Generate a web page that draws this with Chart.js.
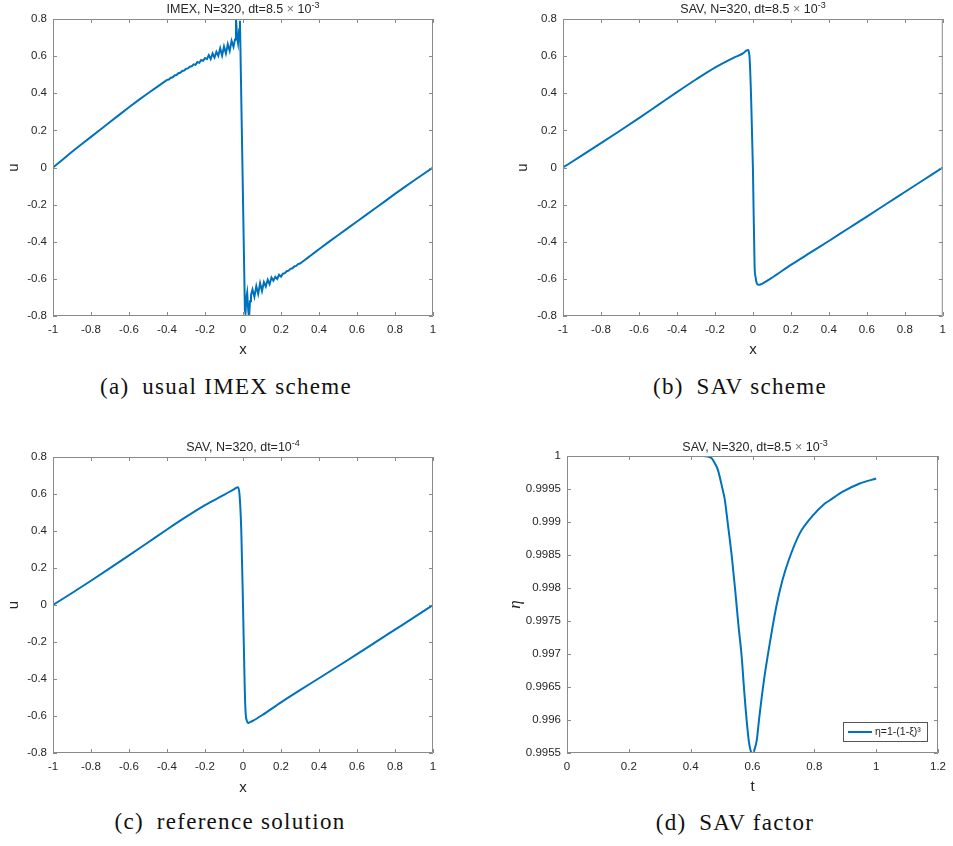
<!DOCTYPE html>
<html>
<head>
<meta charset="utf-8">
<script src="https://cdn.jsdelivr.net/npm/chart.js@4.4.1/dist/chart.umd.min.js"></script>
<style>
  body { margin: 0; width: 953px; height: 846px; background: #fff; position: relative; overflow: hidden; }
  canvas { position: absolute; }
  .ttl { position: absolute; text-align: center; font: 12.5px "Liberation Sans", Arial, sans-serif; color: #262626; line-height: 14px; white-space: nowrap; }
  .ttl .times { color: #777; }
  .ttl sup { font-size: 9px; vertical-align: 5px; line-height: 0; }
  .cap { position: absolute; width: 400px; text-align: center; font: 23px "Liberation Serif", "Times New Roman", serif; color: #111; line-height: 26px; white-space: nowrap; letter-spacing: 1.3px; }
</style>
</head>
<body>
<canvas id="imex" width="476" height="359" style="left:0px;top:0px"></canvas>
<canvas id="sav" width="463" height="359" style="left:490px;top:0px"></canvas>
<canvas id="ref" width="476" height="397" style="left:0px;top:400px"></canvas>
<canvas id="eta" width="463" height="396" style="left:490px;top:400px"></canvas>

<div class="ttl" style="left:53px;width:380px;top:2px">IMEX, N=320, dt=8.5 <span class="times">&times;</span> 10<sup>-3</sup></div>
<div class="ttl" style="left:563px;width:380px;top:2px">SAV, N=320, dt=8.5 <span class="times">&times;</span> 10<sup>-3</sup></div>
<div class="ttl" style="left:53px;width:380px;top:440px">SAV, N=320, dt=10<sup>-4</sup></div>
<div class="ttl" style="left:567px;width:376px;top:440px">SAV, N=320, dt=8.5 <span class="times">&times;</span> 10<sup>-3</sup></div>

<div class="cap" style="left:26px;top:374px">(a)&ensp;usual IMEX scheme</div>
<div class="cap" style="left:540px;top:374px">(b)&ensp;SAV scheme</div>
<div class="cap" style="left:30px;top:809px">(c)&ensp;reference solution</div>
<div class="cap" style="left:535px;top:810px">(d)&ensp;SAV factor</div>

<script>
// tick positions
const xTicks = [-1, -0.8, -0.6, -0.4, -0.2, 0, 0.2, 0.4, 0.6, 0.8, 1];
const uTicks = [-0.8, -0.6, -0.4, -0.2, 0, 0.2, 0.4, 0.6, 0.8];
const tTicks = [0, 0.2, 0.4, 0.6, 0.8, 1, 1.2];
const etaTicks = [0.9955, 0.996, 0.9965, 0.997, 0.9975, 0.998, 0.9985, 0.999, 0.9995, 1];

// (a) usual IMEX scheme
const imexX = [
  -1, -0.95, -0.9, -0.85, -0.8, -0.75, -0.7, -0.65, -0.6, -0.55, -0.5, -0.45,
  -0.40, -0.39, -0.38, -0.37, -0.36, -0.35, -0.34, -0.33, -0.32, -0.31,
  -0.30, -0.29, -0.28, -0.27, -0.26, -0.25, -0.24, -0.23, -0.22, -0.21,
  -0.20, -0.19, -0.18, -0.17, -0.16, -0.15, -0.14, -0.13, -0.12, -0.11,
  -0.10, -0.09, -0.08, -0.07, -0.06, -0.05,
  -0.042, -0.037, -0.031, -0.026, -0.02, -0.016,
  0.01, 0.013, 0.018, 0.022, 0.028, 0.032, 0.037, 0.042,
  0.05, 0.06, 0.07, 0.08, 0.09, 0.10, 0.11, 0.12, 0.13, 0.14,
  0.15, 0.16, 0.17, 0.18, 0.19, 0.20,
  0.21, 0.22, 0.23, 0.24, 0.25, 0.26, 0.27, 0.28, 0.29, 0.30,
  0.32, 0.34, 0.36, 0.38, 0.40,
  0.45, 0.5, 0.55, 0.6, 0.65, 0.7, 0.75, 0.8, 0.85, 0.9, 0.95, 1
];
const imexU = [
  0, 0.042, 0.085, 0.125, 0.165, 0.205, 0.245, 0.285, 0.325, 0.363, 0.400, 0.436,
  0.472, 0.474, 0.484, 0.486, 0.496, 0.498, 0.508, 0.510, 0.520, 0.522,
  0.532, 0.534, 0.543, 0.545, 0.556, 0.553, 0.568, 0.564, 0.579, 0.575,
  0.590, 0.584, 0.606, 0.584, 0.614, 0.592, 0.623, 0.602, 0.642, 0.603,
  0.652, 0.614, 0.664, 0.628, 0.682, 0.650,
  0.690, 0.804, 0.700, 0.669, 0.745, 0.790,
  -0.770, -0.785, -0.700, -0.675, -0.775, -0.806, -0.720, -0.689,
  -0.657, -0.697, -0.639, -0.681, -0.623, -0.665, -0.618, -0.641, -0.605, -0.629,
  -0.593, -0.610, -0.589, -0.600, -0.578, -0.588,
  -0.572, -0.569, -0.559, -0.556, -0.546, -0.543, -0.533, -0.530, -0.520, -0.517,
  -0.502, -0.487, -0.471, -0.456, -0.440,
  -0.402, -0.365, -0.328, -0.291, -0.254, -0.217, -0.180, -0.142, -0.106, -0.070, -0.035, 0
];

// (b) SAV scheme
const savX = [
  -1, -0.9, -0.8, -0.7, -0.6, -0.5, -0.4, -0.3, -0.2, -0.1,
  -0.05, -0.035, -0.025, -0.02, -0.017, -0.009, 0,
  0.009, 0.014, 0.02, 0.026, 0.035, 0.05, 0.1,
  0.2, 0.3, 0.4, 0.5, 0.6, 0.7, 0.8, 0.9, 1
];
const savU = [
  0, 0.065, 0.131, 0.198, 0.266, 0.336, 0.406, 0.474, 0.538, 0.592,
  0.616, 0.630, 0.633, 0.615, 0.585, 0.36, 0,
  -0.536, -0.59, -0.622, -0.631, -0.632, -0.625, -0.594,
  -0.525, -0.460, -0.396, -0.330, -0.265, -0.198, -0.132, -0.066, 0
];

// (c) reference solution
const refX = [
  -1, -0.9, -0.8, -0.7, -0.6, -0.5, -0.4, -0.3, -0.2, -0.1,
  -0.044, -0.026, -0.018, -0.009, 0,
  0.009, 0.014, 0.02, 0.026, 0.035, 0.05, 0.1,
  0.2, 0.3, 0.4, 0.5, 0.6, 0.7, 0.8, 0.9, 1
];
const refU = [
  0, 0.065, 0.131, 0.199, 0.268, 0.338, 0.408, 0.476, 0.540, 0.595,
  0.628, 0.637, 0.593, 0.40, 0,
  -0.443, -0.587, -0.625, -0.638, -0.634, -0.627, -0.596,
  -0.526, -0.460, -0.396, -0.331, -0.266, -0.199, -0.133, -0.067, 0
];

// (d) SAV factor
const etaT = [
  0, 0.1, 0.2, 0.3, 0.4, 0.44, 0.467, 0.478, 0.488, 0.504,
  0.51, 0.52, 0.533, 0.544, 0.554, 0.565, 0.573, 0.582, 0.589, 0.595,
  0.6, 0.607, 0.614, 0.621, 0.637, 0.658, 0.677, 0.697, 0.717, 0.752,
  0.792, 0.834, 0.85, 0.892, 0.945, 1.0
];
const etaV = [
  1, 1, 1, 1, 1, 1, 0.99997, 0.99989, 0.99979, 0.99948,
  0.99935, 0.99898, 0.99848, 0.99797, 0.99746, 0.99696, 0.99645, 0.99595, 0.99565, 0.99552,
  0.99548, 0.99556, 0.9957, 0.996, 0.9966, 0.99722, 0.99772, 0.99812, 0.99842, 0.99882,
  0.99908, 0.99928, 0.99933, 0.99946, 0.99958, 0.99966
];

const LINE = '#0072BD';
const TEXT = '#262626';
const SANS = '"Liberation Sans", Arial, sans-serif';

// MATLAB-style box with inward ticks on all four sides
const axesBox = {
  id: 'axesBox',
  afterDraw(chart) {
    const { ctx, chartArea: a, scales: { x, y } } = chart;
    const len = 4;
    ctx.save();
    ctx.strokeStyle = '#8a8a8a';
    ctx.lineWidth = 1;
    ctx.beginPath();
    ctx.rect(a.left + 0.5, a.top + 0.5, a.right - a.left - 1, a.bottom - a.top - 1);
    x.ticks.forEach((t) => {
      const px = Math.round(x.getPixelForValue(t.value)) + 0.5;
      ctx.moveTo(px, a.bottom); ctx.lineTo(px, a.bottom - len);
      ctx.moveTo(px, a.top); ctx.lineTo(px, a.top + len);
    });
    y.ticks.forEach((t) => {
      const py = Math.round(y.getPixelForValue(t.value)) + 0.5;
      ctx.moveTo(a.left, py); ctx.lineTo(a.left + len, py);
      ctx.moveTo(a.right, py); ctx.lineTo(a.right - len, py);
    });
    ctx.stroke();
    ctx.restore();
  }
};

// legend box in the lower right corner of the chart area
const cornerLegend = {
  id: 'cornerLegend',
  afterDraw(chart, args, opts) {
    if (!opts.show) return;
    const { ctx, chartArea: a } = chart;
    const w = 84, h = 19;
    const left = a.right - 11 - w, top = a.bottom - 12 - h;
    ctx.save();
    ctx.fillStyle = '#fff';
    ctx.fillRect(left, top, w, h);
    ctx.strokeStyle = '#555';
    ctx.lineWidth = 1;
    ctx.strokeRect(left + 0.5, top + 0.5, w, h);
    const ds = chart.data.datasets[0];
    ctx.strokeStyle = ds.borderColor;
    ctx.lineWidth = 2;
    ctx.beginPath();
    ctx.moveTo(left + 5, top + h / 2 + 0.5);
    ctx.lineTo(left + 29, top + h / 2 + 0.5);
    ctx.stroke();
    ctx.fillStyle = TEXT;
    ctx.font = '10.5px ' + SANS;
    ctx.textBaseline = 'middle';
    ctx.fillText(ds.label, left + 32, top + h / 2 + 1);
    ctx.restore();
  }
};

const fmt = (v) => String(+(+v).toFixed(4));

function makePanel(id, frame, plot, opts) {
  const cv = document.getElementById(id);
  const yWidth = plot.left - frame.left;
  const xHeight = frame.top + frame.height - plot.bottom;
  const points = opts.xs.map((x, i) => ({ x, y: opts.ys[i] }));
  return new Chart(cv, {
    type: 'line',
    data: {
      datasets: [{
        label: opts.label || '',
        data: points,
        borderColor: LINE,
        borderWidth: 2,
        pointRadius: 0,
        tension: 0,
        cubicInterpolationMode: opts.smooth ? 'monotone' : 'default',
        fill: false
      }]
    },
    options: {
      responsive: false,
      animation: false,
      layout: { padding: { top: plot.top - frame.top, right: frame.left + frame.width - plot.right, left: 0, bottom: 0 } },
      plugins: {
        legend: { display: false },
        tooltip: { enabled: false },
        cornerLegend: { show: !!opts.legend }
      },
      scales: {
        x: {
          type: 'linear',
          min: opts.xTicks[0],
          max: opts.xTicks[opts.xTicks.length - 1],
          afterBuildTicks: (s) => { s.ticks = opts.xTicks.map((v) => ({ value: v })); },
          afterFit: (s) => { s.height = xHeight; },
          grid: { display: false, drawTicks: false },
          border: { display: false },
          ticks: { color: TEXT, font: { family: SANS, size: 11.5 }, padding: 7, autoSkip: false, maxRotation: 0, callback: fmt },
          title: { display: true, text: opts.xTitle, color: TEXT, font: { family: SANS, size: 15 }, padding: 0 }
        },
        y: {
          type: 'linear',
          min: opts.yTicks[0],
          max: opts.yTicks[opts.yTicks.length - 1],
          afterBuildTicks: (s) => { s.ticks = opts.yTicks.map((v) => ({ value: v })); },
          afterFit: (s) => { s.width = yWidth; },
          grid: { display: false, drawTicks: false },
          border: { display: false },
          ticks: { color: TEXT, font: { family: SANS, size: 11.5 }, padding: 6, autoSkip: false, callback: fmt },
          title: { display: true, text: opts.yTitle, color: TEXT, font: opts.yFont || { family: SANS, size: 15 }, padding: { top: opts.yPad, bottom: 0 } }
        }
      }
    },
    plugins: [axesBox, cornerLegend]
  });
}

makePanel('imex', { left: 0, top: 0, width: 476, height: 359 }, { left: 53, top: 19, right: 433, bottom: 316 },
  { xs: imexX, ys: imexU, xTicks, yTicks: uTicks, xTitle: 'x', yTitle: 'u', yPad: 5 });
makePanel('sav', { left: 490, top: 0, width: 463, height: 359 }, { left: 563, top: 19, right: 943, bottom: 316 },
  { xs: savX, ys: savU, xTicks, yTicks: uTicks, xTitle: 'x', yTitle: 'u', yPad: 24, smooth: true });
makePanel('ref', { left: 0, top: 400, width: 476, height: 397 }, { left: 53, top: 457, right: 433, bottom: 753 },
  { xs: refX, ys: refU, xTicks, yTicks: uTicks, xTitle: 'x', yTitle: 'u', yPad: 5, smooth: true });
makePanel('eta', { left: 490, top: 400, width: 463, height: 396 }, { left: 567, top: 456, right: 943, bottom: 753 },
  { xs: etaT, ys: etaV, xTicks: tTicks, yTicks: etaTicks, xTitle: 't', yTitle: 'η', yPad: 15,
    yFont: { family: '"Liberation Serif", serif', size: 17, style: 'italic' },
    smooth: true, legend: true, label: 'η=1-(1-ξ)³' });
</script>
</body>
</html>
